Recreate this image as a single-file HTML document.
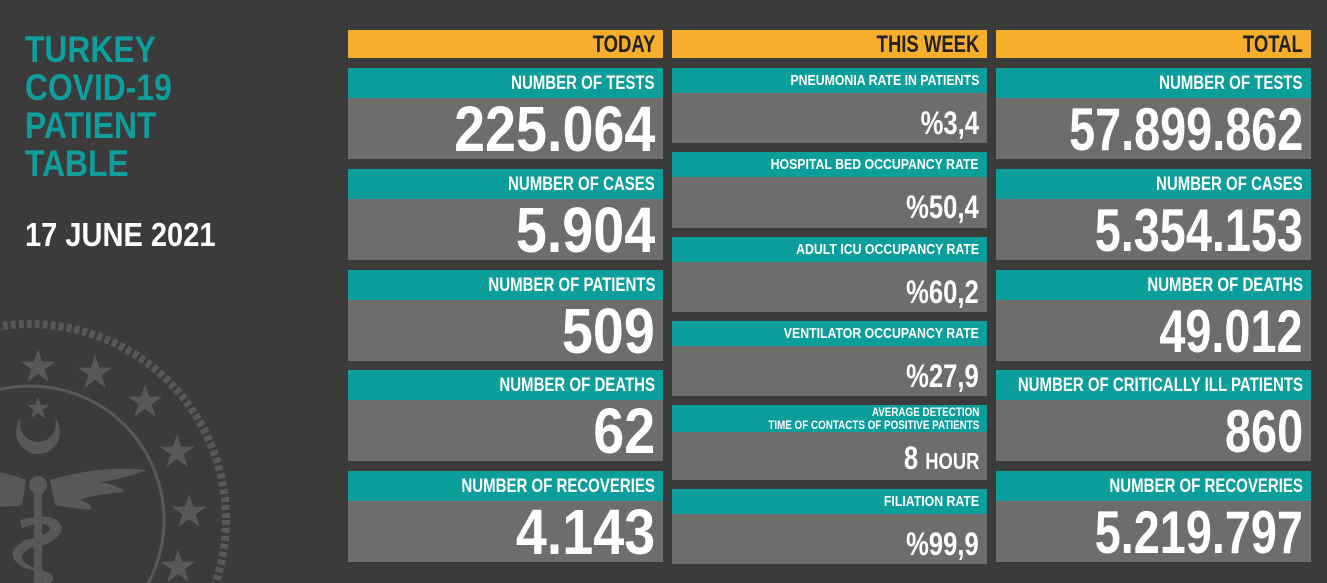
<!DOCTYPE html>
<html><head><meta charset="utf-8"><style>
*{margin:0;padding:0}
html,body{width:1327px;height:583px;overflow:hidden}
body{background:#3b3b3b;position:relative;font-family:"Liberation Sans",sans-serif;font-weight:bold}
.b{position:absolute}
.h{background:#f6ae2d}
.t{background:#0b9e9b}
.g{background:#6d6d6d}
.x{position:absolute;right:8px;line-height:1;white-space:nowrap;transform-origin:right top;color:#fff}
</style></head><body>
<svg class="b" style="left:0;top:0;overflow:hidden" width="330" height="583" viewBox="0 0 330 583">
<g fill="none" stroke="#585858">
<circle cx="30" cy="520" r="196" stroke-width="8" stroke-dasharray="5 3"/>
<circle cx="30" cy="520" r="134" stroke-width="3"/>
</g>
<g fill="#585858">
<circle cx="38" cy="432" r="22"/>
<circle cx="38" cy="424" r="18" fill="#3b3b3b"/>
<circle cx="38" cy="485" r="9"/>
<rect x="34" y="490" width="8" height="93"/>
<path d="M50 480 Q100 465 147 470 Q120 480 100 482 Q120 486 125 492 Q95 494 80 500 Q95 505 90 510 Q70 508 55 505 Z"/>
<path d="M26 480 Q0 470 -20 470 L-20 505 Q10 508 22 505 Z"/>
<path d="M20 520 Q60 510 62 530 Q55 545 30 548 Q10 560 40 570 Q60 575 50 583 L40 583 Q50 575 25 568 Q0 555 25 540 Q50 535 50 528 Q45 520 22 528 Z"/>
<text x="38" y="417" font-size="26" text-anchor="middle">★</text>
<g font-size="40" text-anchor="middle">
<text x="38" y="380">★</text><text x="95" y="386">★</text><text x="145" y="415">★</text><text x="177" y="465">★</text><text x="189" y="525">★</text><text x="178" y="580">★</text>
</g>
</g>
</svg>
<div class="b" style="left:25px;top:31px;color:#0e9e9b;font-size:37px;line-height:38px;transform:scaleX(.86);transform-origin:left top;white-space:nowrap">TURKEY<br>COVID-19<br>PATIENT<br>TABLE</div>
<div class="b" style="left:25px;top:218px;color:#fff;font-size:33px;line-height:1;transform:scaleX(.88);transform-origin:left top;white-space:nowrap">17 JUNE 2021</div>

<div class="b h" style="left:348px;top:30px;width:315px;height:28px"><div class="x" style="top:3px;font-size:24px;color:#222;transform:scaleX(.77)">TODAY</div></div>
<div class="b h" style="left:672px;top:30px;width:315px;height:28px"><div class="x" style="top:3px;font-size:24px;color:#222;transform:scaleX(.77)">THIS WEEK</div></div>
<div class="b h" style="left:996px;top:30px;width:315px;height:28px"><div class="x" style="top:3px;font-size:24px;color:#222;transform:scaleX(.77)">TOTAL</div></div>

<div class="b" style="left:348px;top:68px;width:315px">
 <div class="t" style="position:relative;height:30px"><div class="x" style="top:6px;font-size:19px;transform:scaleX(.79)">NUMBER OF TESTS</div></div>
 <div class="g" style="position:relative;height:61px"><div class="x" style="top:-1px;font-size:64px;transform:scaleX(.87)">225.064</div></div>
</div>
<div class="b" style="left:348px;top:169px;width:315px">
 <div class="t" style="position:relative;height:30px"><div class="x" style="top:6px;font-size:19px;transform:scaleX(.79)">NUMBER OF CASES</div></div>
 <div class="g" style="position:relative;height:61px"><div class="x" style="top:-1px;font-size:64px;transform:scaleX(.87)">5.904</div></div>
</div>
<div class="b" style="left:348px;top:270px;width:315px">
 <div class="t" style="position:relative;height:30px"><div class="x" style="top:6px;font-size:19px;transform:scaleX(.79)">NUMBER OF PATIENTS</div></div>
 <div class="g" style="position:relative;height:61px"><div class="x" style="top:-1px;font-size:64px;transform:scaleX(.87)">509</div></div>
</div>
<div class="b" style="left:348px;top:370px;width:315px">
 <div class="t" style="position:relative;height:30px"><div class="x" style="top:6px;font-size:19px;transform:scaleX(.79)">NUMBER OF DEATHS</div></div>
 <div class="g" style="position:relative;height:61px"><div class="x" style="top:-1px;font-size:64px;transform:scaleX(.87)">62</div></div>
</div>
<div class="b" style="left:348px;top:471px;width:315px">
 <div class="t" style="position:relative;height:30px"><div class="x" style="top:6px;font-size:19px;transform:scaleX(.79)">NUMBER OF RECOVERIES</div></div>
 <div class="g" style="position:relative;height:61px"><div class="x" style="top:-1px;font-size:64px;transform:scaleX(.87)">4.143</div></div>
</div>

<div class="b" style="left:996px;top:68px;width:315px">
 <div class="t" style="position:relative;height:30px"><div class="x" style="top:6px;font-size:19px;transform:scaleX(.79)">NUMBER OF TESTS</div></div>
 <div class="g" style="position:relative;height:61px"><div class="x" style="top:2px;font-size:60px;transform:scaleX(.78)">57.899.862</div></div>
</div>
<div class="b" style="left:996px;top:169px;width:315px">
 <div class="t" style="position:relative;height:30px"><div class="x" style="top:6px;font-size:19px;transform:scaleX(.79)">NUMBER OF CASES</div></div>
 <div class="g" style="position:relative;height:61px"><div class="x" style="top:2px;font-size:60px;transform:scaleX(.78)">5.354.153</div></div>
</div>
<div class="b" style="left:996px;top:270px;width:315px">
 <div class="t" style="position:relative;height:30px"><div class="x" style="top:6px;font-size:19px;transform:scaleX(.79)">NUMBER OF DEATHS</div></div>
 <div class="g" style="position:relative;height:61px"><div class="x" style="top:2px;font-size:60px;transform:scaleX(.78)">49.012</div></div>
</div>
<div class="b" style="left:996px;top:370px;width:315px">
 <div class="t" style="position:relative;height:30px"><div class="x" style="top:6px;font-size:19px;transform:scaleX(.79)">NUMBER OF CRITICALLY ILL PATIENTS</div></div>
 <div class="g" style="position:relative;height:61px"><div class="x" style="top:2px;font-size:60px;transform:scaleX(.78)">860</div></div>
</div>
<div class="b" style="left:996px;top:471px;width:315px">
 <div class="t" style="position:relative;height:30px"><div class="x" style="top:6px;font-size:19px;transform:scaleX(.79)">NUMBER OF RECOVERIES</div></div>
 <div class="g" style="position:relative;height:61px"><div class="x" style="top:2px;font-size:60px;transform:scaleX(.78)">5.219.797</div></div>
</div>

<div class="b" style="left:672px;top:68px;width:315px">
 <div class="t" style="position:relative;height:25px"><div class="x" style="top:5px;font-size:15px;transform:scaleX(.82)">PNEUMONIA RATE IN PATIENTS</div></div>
 <div class="g" style="position:relative;height:50px"><div class="x" style="top:14px;font-size:32px;transform:scaleX(.8)">%3,4</div></div>
</div>
<div class="b" style="left:672px;top:152px;width:315px">
 <div class="t" style="position:relative;height:25px"><div class="x" style="top:5px;font-size:15px;transform:scaleX(.82)">HOSPITAL BED OCCUPANCY RATE</div></div>
 <div class="g" style="position:relative;height:51px"><div class="x" style="top:14px;font-size:32px;transform:scaleX(.8)">%50,4</div></div>
</div>
<div class="b" style="left:672px;top:237px;width:315px">
 <div class="t" style="position:relative;height:25px"><div class="x" style="top:5px;font-size:15px;transform:scaleX(.82)">ADULT ICU OCCUPANCY RATE</div></div>
 <div class="g" style="position:relative;height:50px"><div class="x" style="top:14px;font-size:32px;transform:scaleX(.8)">%60,2</div></div>
</div>
<div class="b" style="left:672px;top:321px;width:315px">
 <div class="t" style="position:relative;height:25px"><div class="x" style="top:5px;font-size:15px;transform:scaleX(.82)">VENTILATOR OCCUPANCY RATE</div></div>
 <div class="g" style="position:relative;height:50px"><div class="x" style="top:14px;font-size:32px;transform:scaleX(.8)">%27,9</div></div>
</div>
<div class="b" style="left:672px;top:405px;width:315px">
 <div class="t" style="position:relative;height:27px"><div class="x" style="top:1px;font-size:12px;line-height:13px;text-align:right;transform:scaleX(.82)">AVERAGE DETECTION<br>TIME OF CONTACTS OF POSITIVE PATIENTS</div></div>
 <div class="g" style="position:relative;height:48px"><div class="x" style="top:10px;font-size:32px;transform:scaleX(.8)">8 <span style="font-size:23px">HOUR</span></div></div>
</div>
<div class="b" style="left:672px;top:489px;width:315px">
 <div class="t" style="position:relative;height:25px"><div class="x" style="top:5px;font-size:15px;transform:scaleX(.82)">FILIATION RATE</div></div>
 <div class="g" style="position:relative;height:50px"><div class="x" style="top:14px;font-size:32px;transform:scaleX(.8)">%99,9</div></div>
</div>
</body></html>
